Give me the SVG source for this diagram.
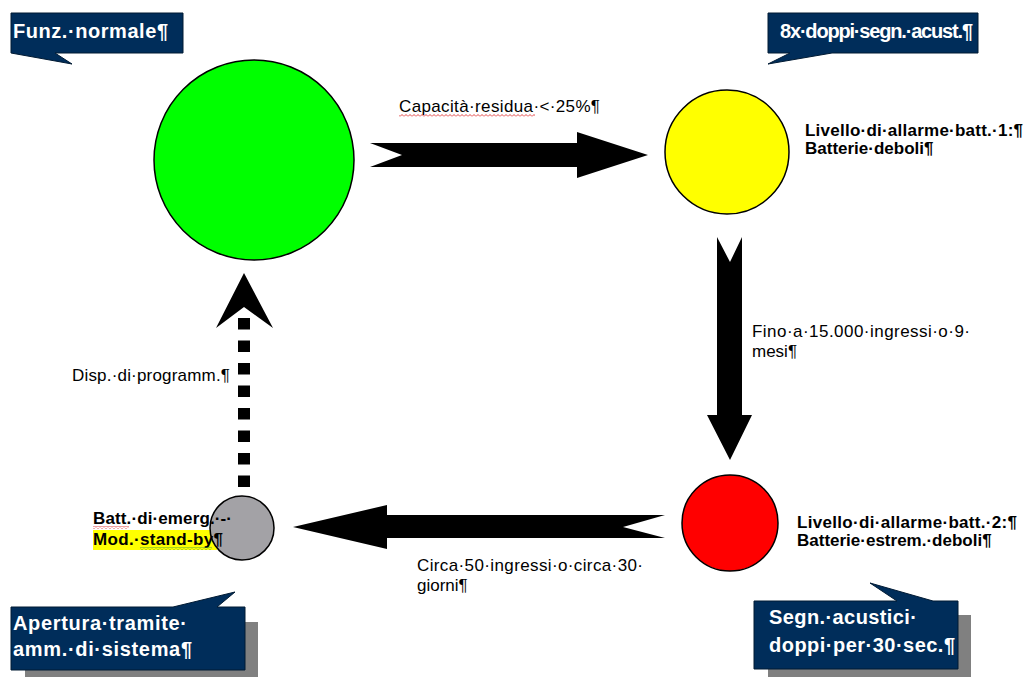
<svg xmlns="http://www.w3.org/2000/svg" width="1028" height="677" viewBox="0 0 1028 677">
<style>
.lbl{font-family:"Liberation Sans",Arial,sans-serif;font-size:17px;fill:#000}
.blbl{font-family:"Liberation Sans",Arial,sans-serif;font-size:17px;font-weight:bold;fill:#000}
.ct{font-family:"Liberation Sans",Arial,sans-serif;font-size:20px;font-weight:bold;fill:#fff}
.box{fill:#002d5a;stroke:#001a33;stroke-width:1}
.shadow{fill:#808080}
.circ{stroke:#000;stroke-width:1.5}
.arrow{fill:#000}
</style>
<defs>
<pattern id="wr" width="4" height="3" patternUnits="userSpaceOnUse"><path d="M0,2.5 L2,0.5 L4,2.5" stroke="#e03030" fill="none" stroke-width="0.9"/></pattern>
<pattern id="wg" width="4" height="3" patternUnits="userSpaceOnUse"><path d="M0,2.5 L2,0.5 L4,2.5" stroke="#40a040" fill="none" stroke-width="0.9"/></pattern>
</defs>
<rect width="1028" height="677" fill="#fff"/>

<g id="connectors">
<polygon class="arrow" points="370,143 577,143 577,132 648,155 577,178 577,167 370,167 402,155"/>
<polygon class="arrow" points="717,237 730,262 742,237 742,415 752,415 730,460 707,415 717,415"/>
<polygon class="arrow" points="293,527 387,505 387,515 665,515 623,527 665,538 387,538 387,549"/>
<line x1="244" y1="318" x2="244" y2="490" stroke="#000" stroke-width="12" stroke-dasharray="11.5 11"/>
<polygon class="arrow" points="244,273 273,328 244,307 216,328"/>
</g>

<g id="label-capacita">
<text class="lbl" x="399" y="112" textLength="201" lengthAdjust="spacing">Capacità·residua·&lt;·25%¶</text>
<rect x="399" y="114" width="136" height="3" fill="url(#wr)"/>
</g>
<g id="label-fino">
<text class="lbl" x="752" y="337" textLength="218" lengthAdjust="spacing">Fino·a·15.000·ingressi·o·9·</text>
<text class="lbl" x="752" y="357">mesi¶</text>
</g>
<g id="label-circa">
<text class="lbl" x="417" y="571" textLength="226" lengthAdjust="spacing">Circa·50·ingressi·o·circa·30·</text>
<text class="lbl" x="417" y="591">giorni¶</text>
</g>
<g id="label-disp">
<text class="lbl" x="72" y="381" textLength="158" lengthAdjust="spacing">Disp.·di·programm.¶</text>
</g>

<g id="node-green">
<circle class="circ" cx="254" cy="160" r="100" fill="#00ff00"/>
</g>
<g id="node-yellow">
<circle class="circ" cx="727" cy="152" r="62" fill="#ffff00"/>
<text class="blbl" x="805" y="136" textLength="218" lengthAdjust="spacing">Livello·di·allarme·batt.·1:¶</text>
<text class="blbl" x="805" y="154">Batterie·deboli¶</text>
</g>
<g id="node-red">
<circle class="circ" cx="730" cy="523" r="48" fill="#ff0000"/>
<text class="blbl" x="797" y="528" textLength="220" lengthAdjust="spacing">Livello·di·allarme·batt.·2:¶</text>
<text class="blbl" x="797" y="546">Batterie·estrem.·deboli¶</text>
</g>
<g id="node-gray">
<rect x="93" y="530" width="124" height="20" fill="#ffff00"/>
<circle class="circ" cx="242" cy="528" r="32" fill="#a3a2a6"/>
<text class="blbl" x="93" y="524" textLength="139" lengthAdjust="spacing">Batt.·di·emerg.·-·</text>
<text class="blbl" x="93" y="545" textLength="130" lengthAdjust="spacing">Mod.·stand-by¶</text>
<rect x="93" y="526" width="36" height="3" fill="url(#wr)"/>
<rect x="140" y="547" width="72" height="3" fill="url(#wg)"/>
</g>

<g id="callout-funz">
<path class="box" d="M11,13 H183 V53 H55 L72,64 L11,53 Z"/>
<text class="ct" x="13" y="38" textLength="155" lengthAdjust="spacing">Funz.·normale¶</text>
</g>
<g id="callout-8x">
<path class="box" d="M768,13 H978 V53 H832 L768,64 L790,53 H768 Z"/>
<text class="ct" x="780" y="38" textLength="193" lengthAdjust="spacing">8x·doppi·segn.·acust.¶</text>
</g>
<g id="callout-apertura">
<rect class="shadow" x="25" y="622" width="233" height="60"/>
<path class="box" d="M11,607 H173 L235,592 L217,607 H245 V670 H11 Z"/>
<text class="ct" x="13" y="630" textLength="174" lengthAdjust="spacing">Apertura·tramite·</text>
<text class="ct" x="13" y="656" textLength="179" lengthAdjust="spacing">amm.·di·sistema¶</text>
</g>
<g id="callout-segn">
<rect class="shadow" x="768" y="615" width="203" height="67"/>
<path class="box" d="M754,601 H897 L870,583 L933,601 H958 V669 H754 Z"/>
<text class="ct" x="769" y="624" textLength="148" lengthAdjust="spacing">Segn.·acustici·</text>
<text class="ct" x="769" y="652" textLength="186" lengthAdjust="spacing">doppi·per·30·sec.¶</text>
</g>
</svg>
